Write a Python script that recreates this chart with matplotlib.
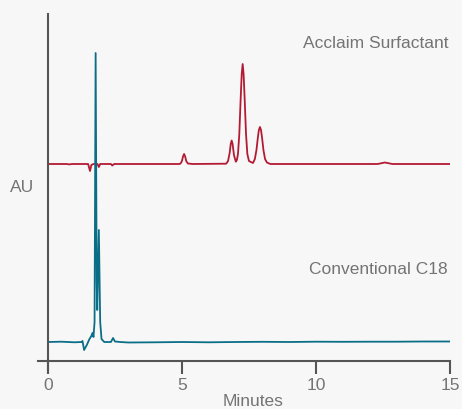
import matplotlib
matplotlib.use("Agg")
import matplotlib.pyplot as plt

# Conventional C18 trace (minutes, signal above its own baseline)
c18_time = [0.0, 0.5, 1.0, 1.25, 1.29, 1.35, 1.45, 1.55, 1.62, 1.66, 1.70,
            1.74, 1.78, 1.82, 1.84, 1.90, 1.95, 2.00, 2.10, 2.35, 2.43, 2.50,
            2.70, 3.0, 4.0, 5.0, 6.0, 7.0, 8.0, 9.0, 10.0, 11.0, 12.0, 13.0,
            14.0, 15.0]
c18_signal = [0.0, 0.3, -0.3, 0.0, 1.0, -8.0, -3.0, 3.0, 6.0, 9.0, 5.0,
              20.0, 289.0, 60.0, 32.0, 112.0, 20.0, 3.0, 0.0, 0.0, 4.0, 0.5,
              0.0, -0.5, -0.3, 0.0, -0.3, 0.0, 0.2, 0.0, 0.3, 0.2, 0.3, 0.3,
              0.5, 0.5]

# Acclaim Surfactant trace
acclaim_time = [0.0, 0.7, 0.8, 0.9, 1.5, 1.57, 1.62, 1.70, 1.85, 1.90, 1.95,
                2.35, 2.40, 2.47, 4.90, 4.95, 5.00, 5.04, 5.08, 5.12, 5.16,
                5.22, 5.40, 6.65, 6.72, 6.78, 6.82, 6.855, 6.89, 6.94, 7.01,
                7.05, 7.09, 7.14, 7.19, 7.23, 7.265, 7.30, 7.34, 7.39, 7.44,
                7.50, 7.65, 7.72, 7.78, 7.83, 7.87, 7.91, 7.95, 7.99, 8.04,
                8.10, 8.17, 8.30, 10.0, 12.3, 12.57, 12.85, 15.0]
acclaim_signal = [0.0, 0.0, -0.4, 0.0, 0.0, -7.0, -1.0, 0.0, 0.0, -3.0, 0.0,
                  0.0, -1.5, 0.0, 0.0, 0.5, 3.0, 7.5, 10.0, 7.5, 3.0,
                  0.5, 0.0, 0.3, 3.0, 11.0, 20.0, 23.5, 20.0, 9.0, 2.3,
                  4.0, 10.0, 30.0, 65.0, 90.0, 100.0, 90.0, 65.0, 30.0, 10.0,
                  3.0, 1.0, 5.0, 14.0, 26.0, 34.0, 37.0, 34.0, 26.0, 14.0,
                  5.0, 1.5, 0.0, 0.0, 0.0, 1.5, 0.0, 0.0]

trace_names = ["Acclaim Surfactant", "Conventional C18"]
trace_offsets = [197.0, 19.0]
trace_colors = ["#b31b34", "#0b6e87"]
x_ticks = [0, 5, 10, 15]

text_gray = "#747474"
axis_gray = "#555555"
bg = "#f7f7f7"

plt.rcParams["font.family"] = ["Liberation Sans", "DejaVu Sans"]

fig = plt.figure(figsize=(4.62, 4.09), dpi=100, facecolor=bg)
ax = fig.add_axes([38 / 462, 39 / 409, 412 / 462, 356 / 409])
ax.set_facecolor(bg)

ax.plot(acclaim_time, [v + trace_offsets[0] for v in acclaim_signal],
        color=trace_colors[0], lw=1.3, solid_joinstyle="round")
ax.plot(c18_time, [v + trace_offsets[1] for v in c18_signal],
        color=trace_colors[1], lw=1.3, solid_joinstyle="round")

ax.set_xlim(-0.37, 15)
ax.set_ylim(-9, 347)

for side in ("top", "right"):
    ax.spines[side].set_visible(False)
ax.spines["left"].set_position(("data", 0))
ax.spines["bottom"].set_position(("data", 0))
ax.spines["bottom"].set_bounds(-0.37, 15)
for side in ("left", "bottom"):
    ax.spines[side].set_color(axis_gray)
    ax.spines[side].set_linewidth(1.5)

ax.set_yticks([])
ax.set_xticks(x_ticks)
ax.set_xticklabels([str(t) for t in x_ticks])
ax.tick_params(axis="x", direction="out", length=9, width=1.5,
               color=axis_gray, labelcolor=text_gray, labelsize=12.5, pad=3)

ax.text(15 - 0.07, 318, trace_names[0], ha="right", va="center",
        fontsize=12.5, color=text_gray)
ax.text(15 - 0.07, 91, trace_names[1], ha="right", va="center",
        fontsize=12.5, color=text_gray)

fig.text(22 / 462, 1 - 188 / 409, "AU", ha="center", va="center",
         fontsize=12.5, color=text_gray)
fig.text(253 / 462, 1 - 401 / 409, "Minutes", ha="center", va="center",
         fontsize=12.5, color=text_gray)

fig.savefig("out.png", dpi=100, facecolor=bg)
